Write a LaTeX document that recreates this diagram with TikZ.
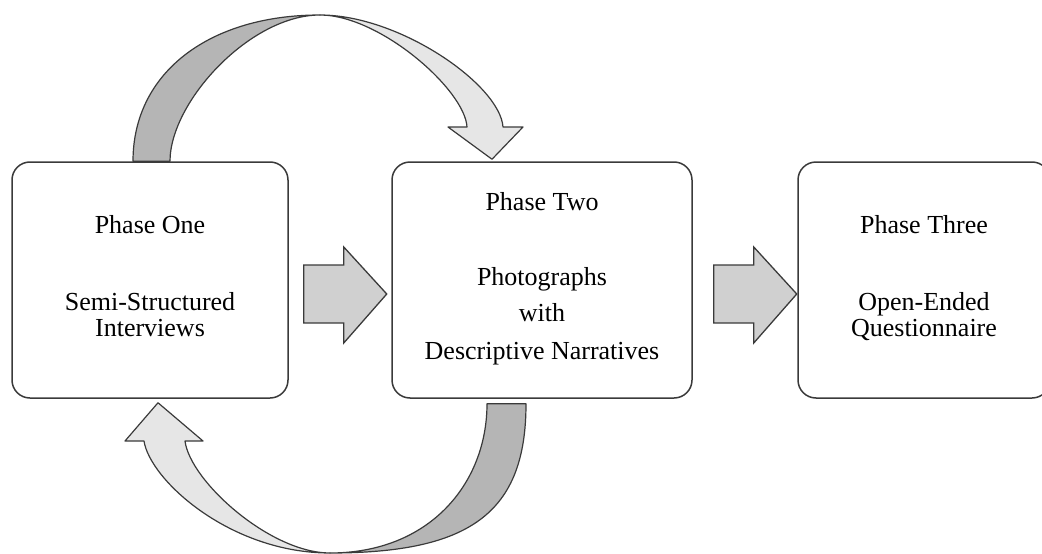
\documentclass[tikz,border=0pt]{standalone}
\usepackage{fontspec}
\setmainfont{Liberation Serif}
\usepackage{xcolor}
\usepackage{tikz}
\usetikzlibrary{calc}
\definecolor{edgegray}{HTML}{3A3A3A}
\definecolor{darkrib}{HTML}{B5B5B5}
\definecolor{lightrib}{HTML}{E6E6E6}
\definecolor{blockfill}{HTML}{D0D0D0}
\tikzset{
	phasebox/.style={draw=edgegray, line width=1.5pt, rounded corners=18pt,
		minimum height=236pt, align=center, font=\fontsize{26}{26}\selectfont},
	ribbon/.style={draw=edgegray, line width=1.2pt, line join=round},
	blockarrow/.style={draw=edgegray, line width=1.3pt, fill=blockfill, line join=miter}
}

\begin{document}
\begin{tikzpicture}[x=1pt,y=-1pt]
	\useasboundingbox (0,0) rectangle (1042,554);
	\clip (0,0) rectangle (1042,554);
		\node[phasebox, minimum width=276pt] (p1) at (150,280) {Phase One\\[51pt]Semi-Structured\\Interviews\strut};
		\node[phasebox, minimum width=300pt] (p2) at (542,280) {Phase Two\\[49pt]Photographs\\[10pt]with\\[12pt]Descriptive Narratives\strut};
		\node[phasebox, minimum width=252pt] (p3) at (924,280) {Phase Three\\[51pt]Open-Ended\\Questionnaire\strut};
		\coordinate (a1) at ($(p1.east)+(15,14)$);
		\coordinate (a2) at ($(p2.east)+(21,14)$);
		\foreach \s in {a1,a2}
			\draw[blockarrow] (\s) -- ++(0,-29) -- ++(40,0) -- ++(0,-18) -- ++(43,47)
				-- ++(-43,49) -- ++(0,-20) -- ++(-40,0) -- cycle;
		\coordinate (T) at (320,15);
		\coordinate (Tl) at ($(p1.north)+(-17,0)$);
		\coordinate (Tr) at ($(p1.north)+(20,0)$);
		\coordinate (Tt) at ($(p2.north)+(-50,-2)$);
		\draw[ribbon, fill=darkrib] (Tl) .. controls (133,72) and (210,15) .. (T)
			.. controls (250,15) and (170,102) .. (Tr) -- cycle;
		\draw[ribbon, fill=lightrib] (T) .. controls (400,15) and (500,85) .. (503,127)
			-- (523,127) -- (Tt) -- (448,127) -- (467,127)
			.. controls (465,90) and (380,15) .. (T) -- cycle;
		\coordinate (B) at (330,553);
		\coordinate (Bl) at ($(p2.south)+(-55,5)$);
		\coordinate (Br) at ($(p2.south)+(-16,5)$);
		\coordinate (Bt) at ($(p1.south)+(8,4)$);
		\draw[ribbon, fill=darkrib] (Br) .. controls (526,513) and (470,553) .. (B)
			.. controls (430,553) and (487,483) .. (Bl) -- cycle;
		\draw[ribbon, fill=lightrib] (B) .. controls (230,553) and (150,480) .. (144,441)
			-- (125,441) -- (Bt) -- (203,441) -- (185,441)
			.. controls (190,481) and (270,553) .. (B) -- cycle;
\end{tikzpicture}
\end{document}
